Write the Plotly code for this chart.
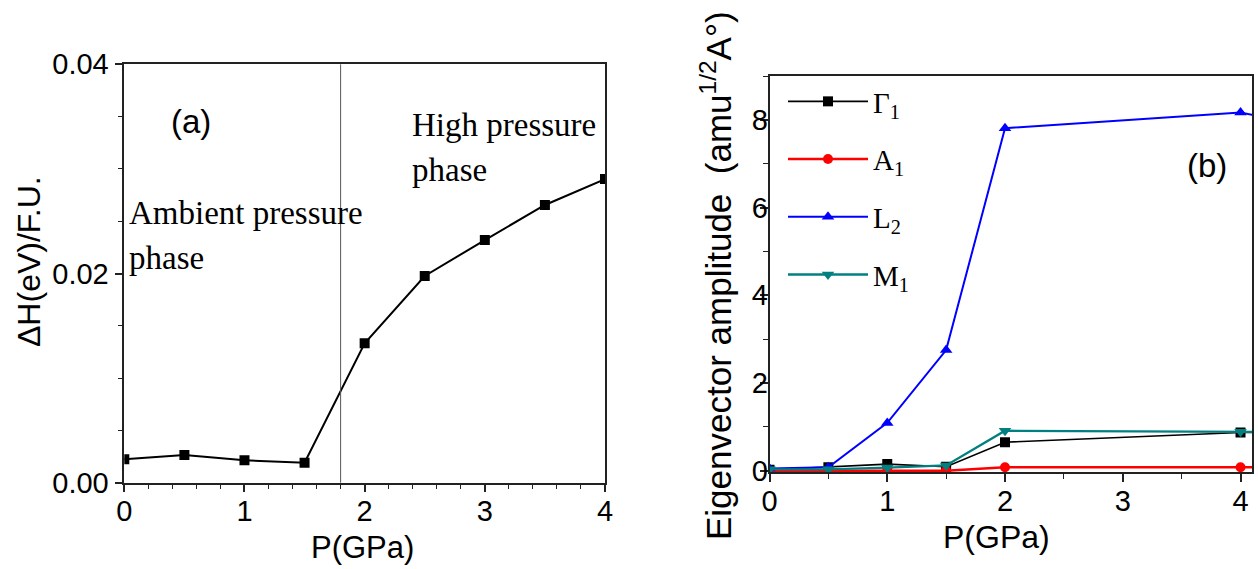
import plotly.graph_objects as go

# ---------------- data ----------------
# Panel (a): enthalpy difference vs pressure
pressure_a = [0, 0.5, 1, 1.5, 2, 2.5, 3, 3.5, 4]
delta_h = [0.00224, 0.00265, 0.00214, 0.00191, 0.01333, 0.01976, 0.0232, 0.02655, 0.02903]
transition_p = 1.8

# Panel (b): eigenvector amplitudes vs pressure
pressure_b = [0, 0.5, 1, 1.5, 2, 4, 4.5]
gamma1 = [0.02, 0.08, 0.15, 0.09, 0.65, 0.87, 0.88]
a1 = [0.0, 0.0, 0.0, 0.0, 0.08, 0.08, 0.08]
l2 = [0.05, 0.08, 1.09, 2.75, 7.81, 8.17, 7.9]
m1 = [0.03, 0.03, 0.07, 0.12, 0.91, 0.89, 0.88]

series_b = [
    ("Γ<sub>1</sub>", gamma1, "black", "square", 1.6, 10),
    ("A<sub>1</sub>", a1, "#ff0000", "circle", 2.4, 10),
    ("L<sub>2</sub>", l2, "#0000ff", "triangle-up", 2.0, 11),
    ("M<sub>1</sub>", m1, "#008080", "triangle-down", 2.4, 11),
]

W, H = 1258, 569
SANS = "Arial, Liberation Sans, sans-serif"
SERIF = "Liberation Serif, Times New Roman, serif"

fig = go.Figure()

fig.add_trace(go.Scatter(
    x=pressure_a, y=delta_h, mode="lines+markers",
    line=dict(color="black", width=2),
    marker=dict(symbol="square", size=10, color="black"),
    showlegend=False, xaxis="x", yaxis="y",
))

for i, (name, vals, col, sym, lw, ms) in enumerate(series_b):
    fig.add_trace(go.Scatter(
        x=pressure_b, y=vals, mode="lines+markers", name=name,
        line=dict(color=col, width=lw),
        marker=dict(symbol=sym, size=ms, color=col),
        legendgroup=f"g{i}", xaxis="x2", yaxis="y2",
    ))

# transition line in panel (a)
fig.add_shape(type="line", xref="x", yref="y domain",
              x0=transition_p, x1=transition_p, y0=0, y1=1,
              line=dict(color="#555555", width=1))

axis_common = dict(
    automargin=False,
    showgrid=False, zeroline=False, showline=True, linecolor="#222222",
    linewidth=1.5, mirror=True, ticks="outside", ticklen=8, tickwidth=1.5,
    tickcolor="#222222", tickfont=dict(family=SANS, size=29, color="black"),
)


def px_x(v):
    return v / W


def px_y(v):
    return 1 - v / H


fig.update_layout(
    width=W, height=H,
    margin=dict(l=0, r=0, t=0, b=0, pad=0),
    paper_bgcolor="white", plot_bgcolor="white",
    showlegend=True,
    xaxis=dict(domain=[px_x(124.3), px_x(605)], range=[0, 4],
               tickvals=[0, 1, 2, 3, 4], anchor="y", ticklabelstandoff=-6,
               minor=dict(tick0=0, dtick=0.2, ticks="outside", ticklen=5,
                          tickwidth=1.2, tickcolor="#222222"),
               **axis_common),
    yaxis=dict(domain=[px_y(482.7), px_y(64.3)], range=[0, 0.04],
               tickvals=[0, 0.02, 0.04], ticktext=["0.00", "0.02", "0.04"],
               anchor="x",
               minor=dict(tick0=0, dtick=0.005, ticks="outside", ticklen=5,
                          tickwidth=1.2, tickcolor="#222222"),
               **axis_common),
    xaxis2=dict(domain=[px_x(769.5), px_x(1252.3)], range=[0, 4.1],
                tickvals=[0, 1, 2, 3, 4], anchor="y2", ticklabelstandoff=-6,
                minor=dict(tick0=0, dtick=0.5, ticks="outside", ticklen=5,
                           tickwidth=1.2, tickcolor="#222222"),
                **axis_common),
    yaxis2=dict(domain=[px_y(472), px_y(76)], range=[-0.03, 9],
                tickvals=[0, 2, 4, 6, 8], anchor="x2", ticklabelstandoff=-14,
                minor=dict(tick0=0, dtick=1, ticks="outside", ticklen=5,
                           tickwidth=1.2, tickcolor="#222222"),
                **axis_common),
    legend=dict(x=px_x(783), y=px_y(76), xanchor="left", yanchor="top",
                bgcolor="rgba(0,0,0,0)", tracegroupgap=17, itemwidth=80,
                font=dict(family=SERIF, size=29, color="black")),
)

annots = [
    # axis titles
    dict(text="P(GPa)", x=px_x(362), y=px_y(547), font=dict(family=SANS, size=31)),
    dict(text="ΔH(eV)/F.U.", x=px_x(29), y=px_y(262), textangle=-90,
         font=dict(family=SANS, size=32)),
    dict(text="P(GPa)", x=px_x(996), y=px_y(537), font=dict(family=SANS, size=32)),
    dict(text="Eigenvector amplitude  (amu<sup>1/2</sup>A°)", x=px_x(716), y=px_y(276),
         textangle=-90, font=dict(family=SANS, size=35)),
    # panel labels
    dict(text="(a)", x=px_x(191), y=px_y(121), font=dict(family=SANS, size=33)),
    dict(text="(b)", x=px_x(1207), y=px_y(165), font=dict(family=SANS, size=33)),
]
for a in annots:
    a.update(xref="paper", yref="paper", showarrow=False,
             xanchor="center", yanchor="middle")
    a["font"]["color"] = "black"
    fig.add_annotation(**a)

serif_texts = [
    ("High pressure", 410, 125),
    ("phase", 410, 170),
    ("Ambient pressure", 127, 213),
    ("phase", 127, 258),
]
for txt, xx, yy in serif_texts:
    fig.add_annotation(text=txt, xref="paper", yref="paper", x=px_x(xx), y=px_y(yy),
                       xanchor="left", yanchor="middle", showarrow=False,
                       font=dict(family=SERIF, size=33, color="black"))

fig.write_html("out.html", config={"displayModeBar": False},
               post_script="document.body.style.margin='0';")
